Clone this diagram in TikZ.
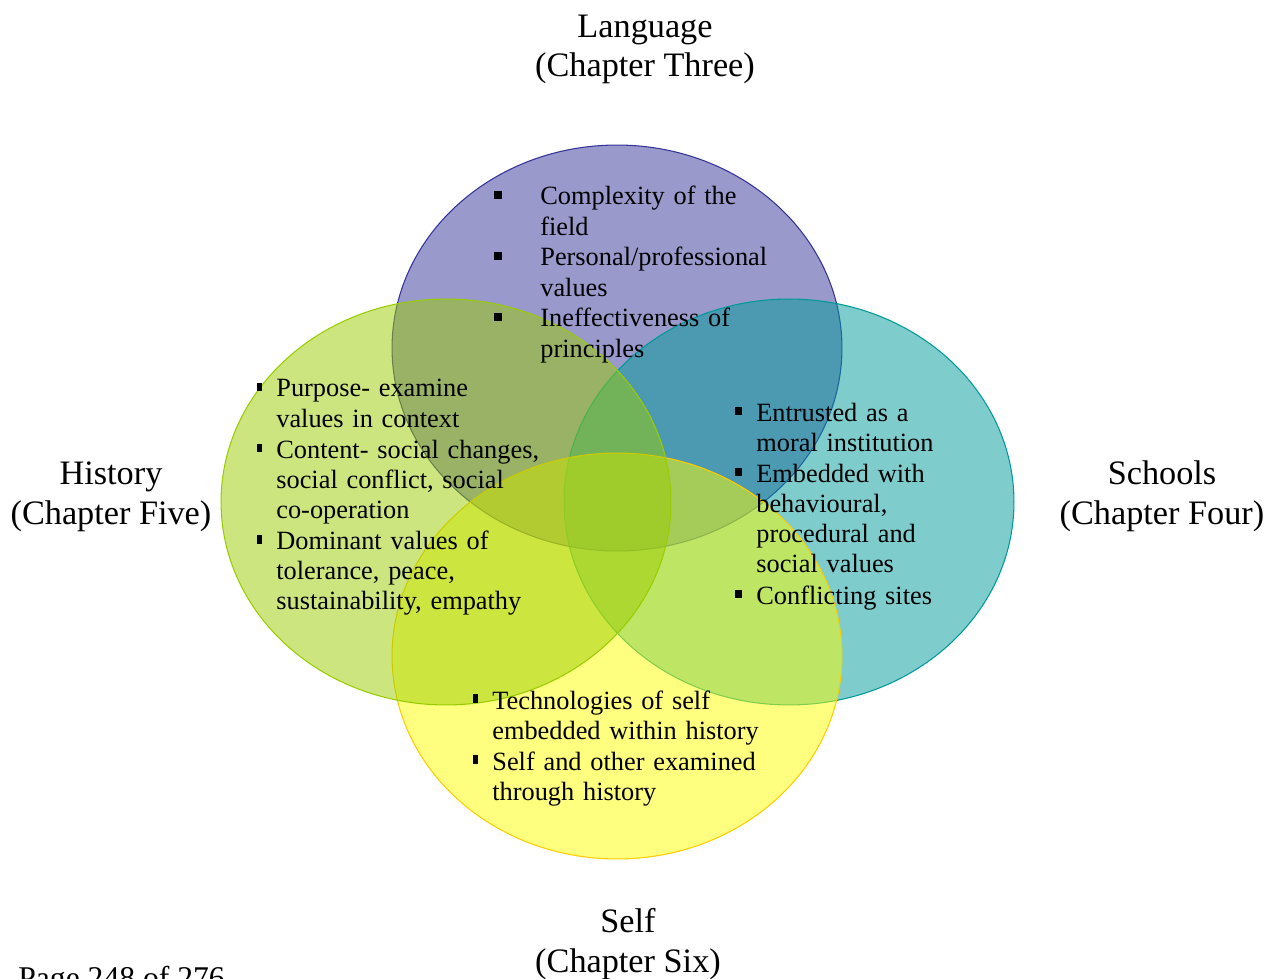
\documentclass[tikz,border=0pt]{standalone}
\usepackage{fontspec}
\setmainfont{Liberation Serif}
\definecolor{cpurple}{HTML}{333399}
\definecolor{cgreen}{HTML}{99CC00}
\definecolor{cteal}{HTML}{009999}
\definecolor{cyellow}{HTML}{FFFF00}
\definecolor{cgold}{HTML}{FFCC00}
\tikzset{
  venn/.style={line width=0.6pt, fill opacity=0.5},
  itemtxt/.style={anchor=base west, inner sep=0pt, text width=9cm, align=left,
    font=\fontsize{15}{17.23}\selectfont},
  chap/.style={anchor=base, inner sep=0pt, align=center,
    font=\fontsize{19.5}{22.7}\selectfont},
  sqbul/.style={fill=black, draw=none, inner sep=0pt, minimum width=0.15cm, minimum height=0.15cm},
  tallbul/.style={fill=black, draw=none, inner sep=0pt, minimum width=0.1cm, minimum height=0.18cm},
}
\begin{document}
\begin{tikzpicture}[x=0.02cm, y=-0.02cm]
\useasboundingbox (0,0) rectangle (1280,979);
% ellipses (order: top, right, bottom, left)
\draw[venn, draw=cpurple, fill=cpurple] (617,348) ellipse [x radius=4.5cm, y radius=4.06cm];
\draw[venn, draw=cteal, fill=cteal] (789,502) ellipse [x radius=4.5cm, y radius=4.06cm];
\draw[venn, draw=cgold, fill=cyellow] (617,656) ellipse [x radius=4.5cm, y radius=4.06cm];
\draw[venn, draw=cgreen, fill=cgreen] (446,502) ellipse [x radius=4.5cm, y radius=4.06cm];
% chapter labels (anchor base = baseline of last line)
\node[chap] (lang) at (645,77) {Language\\(Chapter Three)};
\node[chap] (hist) at (111,524) {History\\(Chapter Five)};
\node[chap] (school) at (1162,524) {Schools\\(Chapter Four)};
\node[chap] (self) at (628,972) {Self\\(Chapter Six)};
\node[anchor=base west, inner sep=0pt, font=\fontsize{18}{21}\selectfont] (page) at (18,988) {Page 248 of 276};
% top list
\node[sqbul] (tb1) at (498,195) {};
\node[itemtxt] (t1) at (540,205) {Complexity of the\\field};
\node[sqbul] (tb2) at (498,256) {};
\node[itemtxt] (t2) at (540,266) {Personal/professional\\values};
\node[sqbul] (tb3) at (498,317) {};
\node[itemtxt] (t3) at (540,327) {Ineffectiveness of\\principles};
% left list
\node[tallbul] (lb1) at (259.5,387) {};
\node[itemtxt] (l1) at (276,397) {Purpose- examine\\values in context};
\node[tallbul] (lb2) at (259.5,448) {};
\node[itemtxt] (l2) at (276,458) {Content- social changes,\\social conflict, social\\co-operation};
\node[tallbul] (lb3) at (259.5,539) {};
\node[itemtxt] (l3) at (276,549) {Dominant values of\\tolerance, peace,\\sustainability, empathy};
% right list
\node[sqbul] (rb1) at (738.5,411) {};
\node[itemtxt] (r1) at (756,421) {Entrusted as a\\moral institution};
\node[sqbul] (rb2) at (738.5,472) {};
\node[itemtxt] (r2) at (756,482) {Embedded with\\behavioural,\\procedural and\\social values};
\node[sqbul] (rb3) at (738.5,594) {};
\node[itemtxt] (r3) at (756,604) {Conflicting sites};
% bottom list
\node[tallbul] (bb1) at (475.5,698) {};
\node[itemtxt] (b1) at (492,709) {Technologies of self\\embedded within history};
\node[tallbul] (bb2) at (475.5,759) {};
\node[itemtxt] (b2) at (492,770) {Self and other examined\\through history};
\end{tikzpicture}
\end{document}
